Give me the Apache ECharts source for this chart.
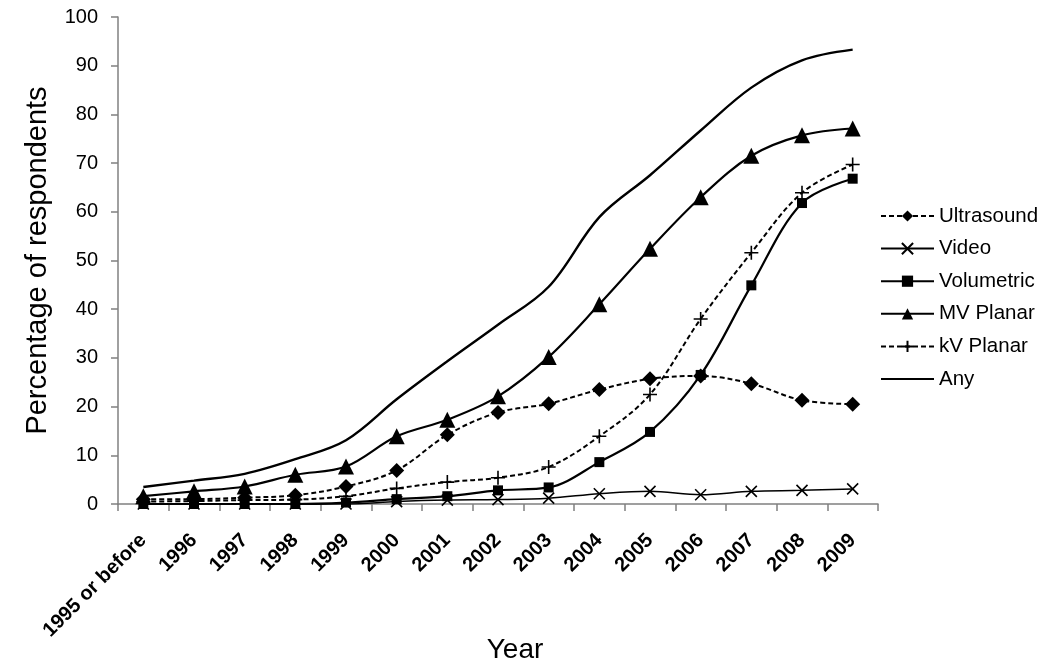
<!DOCTYPE html>
<html>
<head>
<meta charset="utf-8">
<script src="https://cdn.jsdelivr.net/npm/echarts@6/dist/echarts.min.js"></script>
<style>html,body{margin:0;padding:0;background:#fff;}#c{width:1050px;height:671px;}</style>
</head>
<body>
<div id="c"></div>
<script>
var categories = ['1995 or before','1996','1997','1998','1999','2000','2001','2002','2003','2004','2005','2006','2007','2008','2009'];
var ultrasound = [1.0, 1.0, 1.3, 1.8, 3.6, 6.9, 14.2, 18.8, 20.6, 23.5, 25.7, 26.3, 24.7, 21.3, 20.5];
var video      = [0, 0, 0, 0, 0, 0.5, 0.8, 0.9, 1.2, 2.1, 2.6, 1.9, 2.6, 2.8, 3.1];
var volumetric = [0, 0, 0, 0, 0.3, 1.0, 1.6, 2.8, 3.4, 8.6, 14.8, 26.5, 44.9, 61.8, 66.8];
var mvPlanar   = [1.6, 2.6, 3.6, 6.0, 7.7, 13.9, 17.3, 22.1, 30.2, 41.0, 52.4, 63.0, 71.5, 75.7, 77.1];
var kvPlanar   = [0.5, 0.6, 0.8, 0.9, 1.6, 3.2, 4.5, 5.4, 7.6, 13.9, 22.5, 38.0, 51.6, 63.9, 69.7];
var anyTech    = [3.5, 4.8, 6.2, 9.2, 13.1, 21.5, 29.3, 36.8, 44.6, 58.9, 67.5, 76.7, 85.5, 91.1, 93.3];
var yTicks = [0, 10, 20, 30, 40, 50, 60, 70, 80, 90, 100];

var xSym = 'path://M0,0L10,10M10,0L0,10';
var plusSym = 'path://M5,0L5,10M0,5L10,5';

function mk(name, data, symbol, size, dashed, width, strokeOnly) {
  return {
    name: name, type: 'line', data: data, smooth: 0.35,
    symbol: symbol, symbolSize: size, showSymbol: symbol !== 'none',
    lineStyle: { color: '#000', width: width, type: dashed ? [5, 3] : 'solid' },
    itemStyle: strokeOnly ? { color: 'rgba(0,0,0,0)', borderColor: '#000', borderWidth: 1.6 } : { color: '#000', borderColor: '#000', borderWidth: 0 },
    emphasis: { disabled: true },
    z: 3
  };
}

var font = 'Liberation Sans, Arial';
var chart = echarts.init(document.getElementById('c'));
chart.setOption({
  animation: false,
  backgroundColor: '#fff',
  grid: { left: 118, right: 172, top: 17, bottom: 167, containLabel: false, outerBoundsMode: 'none' },
  legend: {
    orient: 'vertical', left: 875, top: 200,
    itemWidth: 53, itemHeight: 14, itemGap: 10.6,
    textStyle: { fontFamily: font, fontSize: 20.5, lineHeight: 22, color: '#000' },
    data: ['Ultrasound','Video','Volumetric','MV Planar','kV Planar',
      { name: 'Any', itemStyle: { color: 'rgba(0,0,0,0)', borderWidth: 0, opacity: 0 } }]
  },
  xAxis: {
    type: 'category', data: categories, boundaryGap: true,
    name: 'Year', nameLocation: 'middle', nameGap: 132, nameMoveOverlap: false,
    nameTextStyle: { fontFamily: font, fontSize: 28, color: '#000', padding: [0, 0, 0, 34] },
    axisLine: { lineStyle: { color: '#808080', width: 1.5 } },
    axisTick: { show: true, alignWithLabel: false, length: 7, lineStyle: { color: '#808080', width: 1.5 } },
    axisLabel: { rotate: 45, margin: 19, padding: [0, 10, 0, 0], align: 'right', verticalAlign: 'top', fontFamily: font, fontSize: 20, fontWeight: 'bold', color: '#000', interval: 0 },
    splitLine: { show: false }
  },
  yAxis: {
    type: 'value', min: 0, max: 100, interval: 10,
    name: 'Percentage of respondents', nameLocation: 'middle', nameGap: 66, nameRotate: 90, nameMoveOverlap: false,
    nameTextStyle: { fontFamily: font, fontSize: 29, color: '#000' },
    axisLine: { show: true, lineStyle: { color: '#808080', width: 1.5 } },
    axisTick: { show: true, length: 7, lineStyle: { color: '#808080', width: 1.5 } },
    axisLabel: { margin: 20, fontFamily: font, fontSize: 20, color: '#000',
      formatter: function (v) { return yTicks.indexOf(v) >= 0 ? String(v) : ''; } },
    splitLine: { show: false }
  },
  series: [
    mk('Ultrasound', ultrasound, 'diamond', 15, true, 2, false),
    mk('Video', video, xSym, 11, false, 1.5, true),
    mk('Volumetric', volumetric, 'rect', 10, false, 2.2, false),
    mk('MV Planar', mvPlanar, 'triangle', 16, false, 2.2, false),
    mk('kV Planar', kvPlanar, plusSym, 14, true, 2, true),
    mk('Any', anyTech, 'none', 0, false, 2.4, false)
  ]
});
</script>
</body>
</html>
